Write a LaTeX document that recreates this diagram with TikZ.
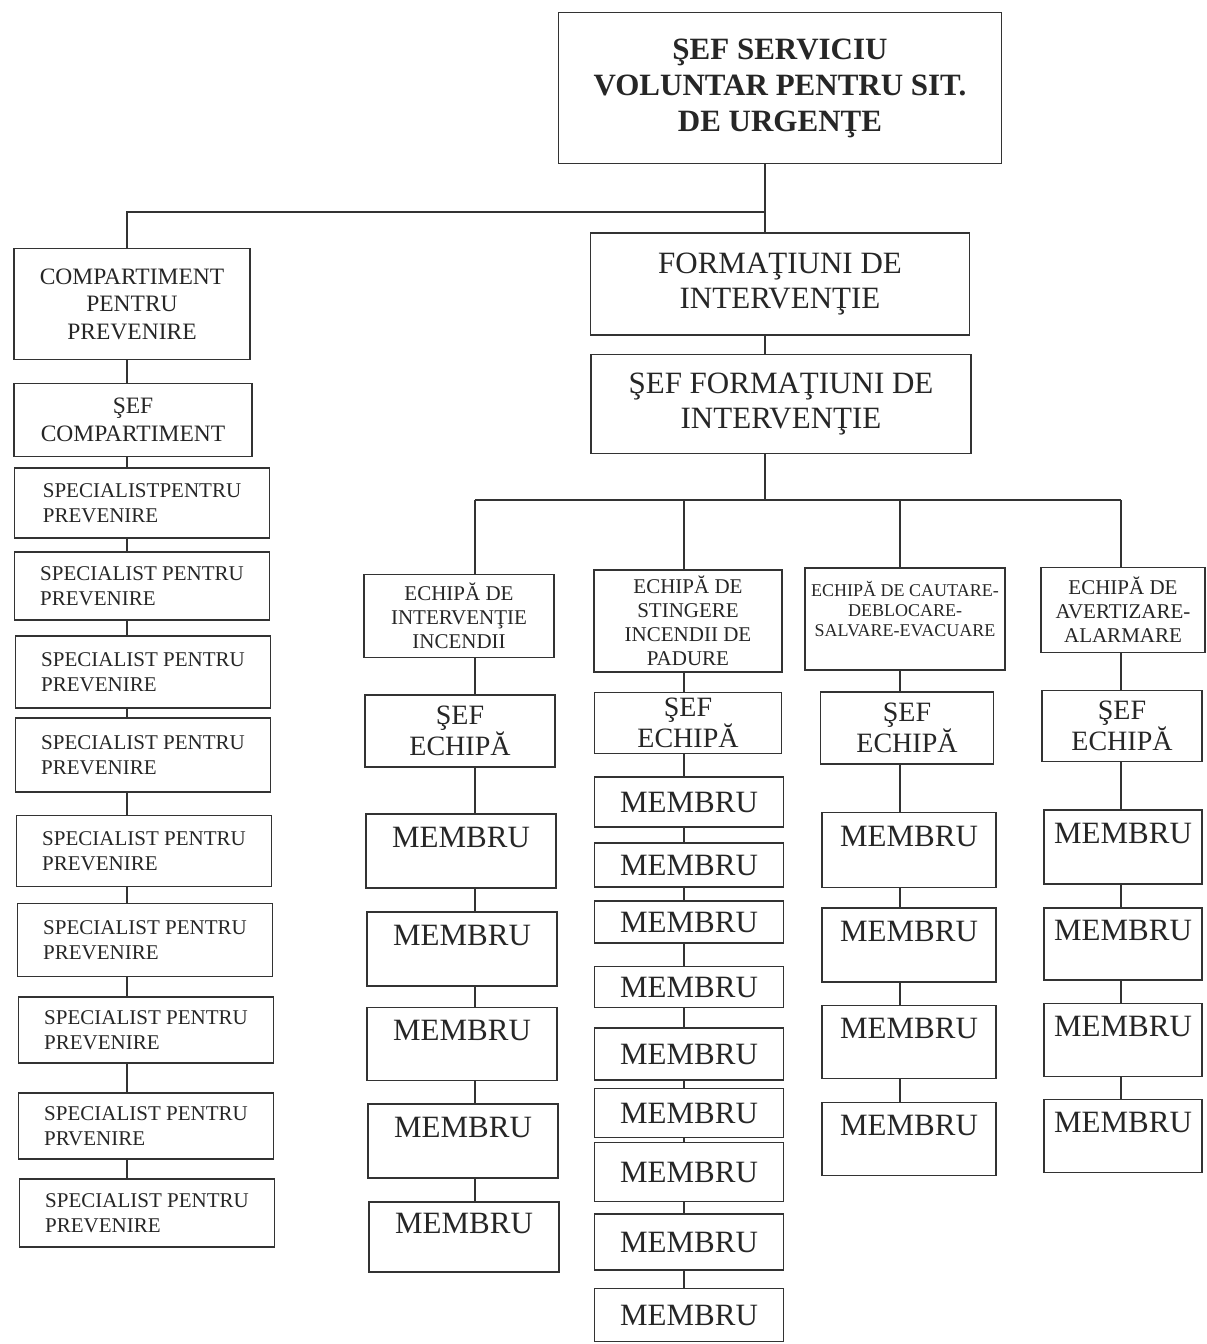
\documentclass[tikz,border=0pt]{standalone}
\usepackage{fontspec}
\setmainfont{Liberation Serif}

\begin{document}
\begin{tikzpicture}[x=1pt, y=-1pt]
	\tikzstyle{Line} = [rectangle, draw=black!80, line width=1.4pt, inner sep=1pt, text=black!85]
	\tikzstyle{Box} = [Line, align=center]
	\tikzstyle{Head} = [Box, font=\fontsize{31}{36}\selectfont\bfseries]
	\tikzstyle{Big} = [Box, font=\fontsize{31}{35}\selectfont]
	\tikzstyle{Chief} = [Box, font=\fontsize{28}{31}\selectfont]
	\tikzstyle{Small} = [Box, font=\fontsize{23.5}{27.5}\selectfont]
	\tikzstyle{Spec} = [Line, align=left, minimum width=255pt, font=\fontsize{21}{25}\selectfont]
	\tikzstyle{Team} = [Box, font=\fontsize{21}{24}\selectfont]
	\tikzstyle{Member} = [Line, font=\fontsize{31}{35}\selectfont]
	\tikzstyle{MemberTop} = [Member, text height=21pt, text depth=28pt]
	\tikzstyle{Link} = [draw=black!80, line width=1.4pt]

	\useasboundingbox (0,0) rectangle (1207,1344);

	% conducere
	\node (sef) [Head, minimum width=443pt, minimum height=151pt] at (780,88) {ŞEF SERVICIU\\VOLUNTAR PENTRU SIT.\\DE URGENŢE};
	\node (form) [Big, minimum width=379pt, minimum height=102pt] at (780,284) {FORMAŢIUNI DE\\INTERVENŢIE};
	\node (sform) [Big, minimum width=380pt, minimum height=99pt] at (781,404) {ŞEF FORMAŢIUNI DE\\INTERVENŢIE};

	% compartiment prevenire
	\node (comp) [Small, minimum width=236pt, minimum height=111pt] at (132,304) {COMPARTIMENT\\PENTRU\\PREVENIRE};
	\node (scomp) [Small, minimum width=238pt, minimum height=73pt] at (133,420) {ŞEF\\COMPARTIMENT};
	\node (sp1) [Spec, minimum height=70pt] at (142,503) {SPECIALISTPENTRU\\PREVENIRE};
	\node (sp2) [Spec, minimum height=68pt] at (142,586) {SPECIALIST PENTRU\\PREVENIRE};
	\node (sp3) [Spec, minimum height=72pt] at (143,672) {SPECIALIST PENTRU\\PREVENIRE};
	\node (sp4) [Spec, minimum height=74pt] at (143,755) {SPECIALIST PENTRU\\PREVENIRE};
	\node (sp5) [Spec, minimum height=71pt] at (144,851) {SPECIALIST PENTRU\\PREVENIRE};
	\node (sp6) [Spec, minimum height=73pt] at (145,940) {SPECIALIST PENTRU\\PREVENIRE};
	\node (sp7) [Spec, minimum height=66pt] at (146,1030) {SPECIALIST PENTRU\\PREVENIRE};
	\node (sp8) [Spec, minimum height=66pt] at (146,1126) {SPECIALIST PENTRU\\PRVENIRE};
	\node (sp9) [Spec, minimum height=68pt] at (147,1213) {SPECIALIST PENTRU\\PREVENIRE};

	% echipe
	\node (e1) [Team, minimum width=190pt, minimum height=83pt] at (459,616) {ECHIPĂ DE\\INTERVENŢIE\\INCENDII};
	\node (e2) [Team, minimum width=188pt, minimum height=102pt] at (688,621) {ECHIPĂ DE\\STINGERE\\INCENDII DE\\PADURE};
	\node (e3) [Team, font=\fontsize{18}{20}\selectfont, minimum width=200pt, minimum height=102pt] at (905,619) {ECHIPĂ DE CAUTARE-\\DEBLOCARE-\\SALVARE-EVACUARE\\\mbox{}};
	\node (e4) [Team, minimum width=164pt, minimum height=85pt] at (1123,610) {ECHIPĂ DE\\AVERTIZARE-\\ALARMARE};

	\node (e1s) [Chief, minimum width=190pt, minimum height=72pt] at (460,731) {ŞEF\\ECHIPĂ};
	\node (e2s) [Chief, minimum width=187pt, minimum height=61pt] at (688,723) {ŞEF\\ECHIPĂ};
	\node (e3s) [Chief, minimum width=173pt, minimum height=72pt] at (907,728) {ŞEF\\ECHIPĂ};
	\node (e4s) [Chief, minimum width=160pt, minimum height=71pt] at (1122,726) {ŞEF\\ECHIPĂ};

	% membri
	\node (a1) [MemberTop, minimum width=190pt, minimum height=74pt] at (461,851) {MEMBRU};
	\node (a2) [MemberTop, minimum width=190pt, minimum height=74pt] at (462,949) {MEMBRU};
	\node (a3) [MemberTop, minimum width=190pt, minimum height=73pt] at (462,1044) {MEMBRU};
	\node (a4) [MemberTop, minimum width=190pt, minimum height=74pt] at (463,1141) {MEMBRU};
	\node (a5) [MemberTop, minimum width=190pt, minimum height=70pt] at (464,1237) {MEMBRU};

	\node (b1) [Member, minimum width=189pt, minimum height=50pt] at (689,802) {MEMBRU};
	\node (b2) [Member, minimum width=189pt, minimum height=44pt] at (689,865) {MEMBRU};
	\node (b3) [Member, minimum width=189pt, minimum height=42pt] at (689,922) {MEMBRU};
	\node (b4) [Member, minimum width=189pt, minimum height=41pt] at (689,987) {MEMBRU};
	\node (b5) [Member, minimum width=189pt, minimum height=52pt] at (689,1054) {MEMBRU};
	\node (b6) [Member, minimum width=189pt, minimum height=49pt] at (689,1113) {MEMBRU};
	\node (b7) [Member, minimum width=189pt, minimum height=59pt] at (689,1172) {MEMBRU};
	\node (b8) [Member, minimum width=189pt, minimum height=56pt] at (689,1242) {MEMBRU};
	\node (b9) [Member, minimum width=189pt, minimum height=53pt] at (689,1315) {MEMBRU};

	\node (c1) [MemberTop, minimum width=174pt, minimum height=75pt] at (909,850) {MEMBRU};
	\node (c2) [MemberTop, minimum width=174pt, minimum height=74pt] at (909,945) {MEMBRU};
	\node (c3) [MemberTop, minimum width=174pt, minimum height=73pt] at (909,1042) {MEMBRU};
	\node (c4) [MemberTop, minimum width=174pt, minimum height=73pt] at (909,1139) {MEMBRU};

	\node (d1) [MemberTop, minimum width=158pt, minimum height=74pt] at (1123,847) {MEMBRU};
	\node (d2) [MemberTop, minimum width=158pt, minimum height=72pt] at (1123,944) {MEMBRU};
	\node (d3) [MemberTop, minimum width=158pt, minimum height=73pt] at (1123,1040) {MEMBRU};
	\node (d4) [MemberTop, minimum width=158pt, minimum height=73pt] at (1123,1136) {MEMBRU};

	% legaturi
	\coordinate (trunk) at (765,212);
	\coordinate (bus) at (765,500);
	\coordinate (spine) at (127,0);
	\coordinate (colA) at (475,0);
	\coordinate (colB) at (684,0);
	\coordinate (colC) at (900,0);
	\coordinate (colD) at (1121,0);

	\draw [Link] (sef.south -| trunk) -- (form.north -| trunk);
	\draw [Link] (trunk) -| (comp.north -| spine);
	\draw [Link] (form.south -| trunk) -- (sform.north -| trunk);
	\draw [Link] (sform.south -| bus) -- (bus);
	\draw [Link] (bus -| colA) -- (bus -| colD);
	\draw [Link] (bus -| colA) -- (e1.north -| colA);
	\draw [Link] (bus -| colB) -- (e2.north -| colB);
	\draw [Link] (bus -| colC) -- (e3.north -| colC);
	\draw [Link] (bus -| colD) -- (e4.north -| colD);

	\draw [Link] (comp.south -| spine) -- (scomp.north -| spine)
		(scomp.south -| spine) -- (sp1.north -| spine)
		(sp1.south -| spine) -- (sp2.north -| spine)
		(sp2.south -| spine) -- (sp3.north -| spine)
		(sp3.south -| spine) -- (sp4.north -| spine)
		(sp4.south -| spine) -- (sp5.north -| spine)
		(sp5.south -| spine) -- (sp6.north -| spine)
		(sp6.south -| spine) -- (sp7.north -| spine)
		(sp7.south -| spine) -- (sp8.north -| spine)
		(sp8.south -| spine) -- (sp9.north -| spine);

	\draw [Link] (e1.south -| colA) -- (e1s.north -| colA)
		(e1s.south -| colA) -- (a1.north -| colA)
		(a1.south -| colA) -- (a2.north -| colA)
		(a2.south -| colA) -- (a3.north -| colA)
		(a3.south -| colA) -- (a4.north -| colA)
		(a4.south -| colA) -- (a5.north -| colA);

	\draw [Link] (e2.south -| colB) -- (e2s.north -| colB)
		(e2s.south -| colB) -- (b1.north -| colB)
		(b1.south -| colB) -- (b2.north -| colB)
		(b2.south -| colB) -- (b3.north -| colB)
		(b3.south -| colB) -- (b4.north -| colB)
		(b4.south -| colB) -- (b5.north -| colB)
		(b5.south -| colB) -- (b6.north -| colB)
		(b6.south -| colB) -- (b7.north -| colB)
		(b7.south -| colB) -- (b8.north -| colB)
		(b8.south -| colB) -- (b9.north -| colB);

	\draw [Link] (e3.south -| colC) -- (e3s.north -| colC)
		(e3s.south -| colC) -- (c1.north -| colC)
		(c1.south -| colC) -- (c2.north -| colC)
		(c2.south -| colC) -- (c3.north -| colC)
		(c3.south -| colC) -- (c4.north -| colC);

	\draw [Link] (e4.south -| colD) -- (e4s.north -| colD)
		(e4s.south -| colD) -- (d1.north -| colD)
		(d1.south -| colD) -- (d2.north -| colD)
		(d2.south -| colD) -- (d3.north -| colD)
		(d3.south -| colD) -- (d4.north -| colD);
\end{tikzpicture}
\end{document}
